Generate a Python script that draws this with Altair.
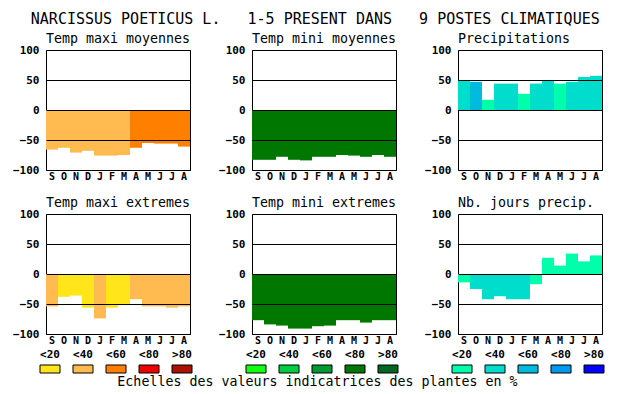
import altair as alt
import pandas as pd

FONT = "DejaVu Sans Mono"

main_title = "NARCISSUS POETICUS L.   1-5 PRESENT DANS   9 POSTES CLIMATIQUES"
footer = "Echelles des valeurs indicatrices des plantes en %"

months = ["S", "O", "N", "D", "J", "F", "M", "A", "M", "J", "J", "A"]
classes = ["<20", "<40", "<60", "<80", ">80"]

warm = ["#FFE51A", "#FFBB4F", "#FF8000", "#EE0000", "#AA1100"]
green = ["#11FF11", "#00CC44", "#009933", "#007700", "#006622"]
blue = ["#00FFAA", "#00DDCC", "#00BBDD", "#0099EE", "#0000FF"]

# panel values
tmax_moy = [-66, -63, -71, -68, -76, -76, -75, -63, -55, -56, -56, -61]
tmax_moy_cls = ["<40", "<40", "<40", "<40", "<40", "<40", "<40", "<60", "<60", "<60", "<60", "<60"]

tmin_moy = [-83, -83, -78, -83, -84, -78, -78, -75, -76, -78, -75, -78]
tmin_moy_cls = ["<80"] * 12

precip = [49, 47, 17, 44, 44, 27, 44, 49, 44, 47, 55, 57]
precip_cls = ["<40", "<60", "<20", "<40", "<40", "<20", "<40", "<40", "<20", "<40", "<40", "<40"]

tmax_ext = [-54, -38, -36, -56, -74, -56, -52, -42, -54, -54, -56, -54]
tmax_ext_cls = ["<40", "<20", "<20", "<20", "<40", "<20", "<20", "<40", "<40", "<40", "<40", "<40"]

tmin_ext = [-77, -84, -86, -91, -91, -87, -86, -77, -77, -81, -77, -77]
tmin_ext_cls = ["<80"] * 12

njours = [-14, -25, -42, -37, -42, -42, -17, 27, 14, 34, 21, 31]
njours_cls = ["<20", "<40", "<40", "<40", "<40", "<40", "<20", "<20", "<20", "<20", "<20", "<20"]

y_ticks = [-100, -50, 0, 50, 100]

color_domain = [p + c for p in ["T", "G", "B"] for c in classes]
color_range = warm + green + blue
color_scale = alt.Scale(domain=color_domain, range=color_range)

month_expr = "[" + ",".join("'%s'" % m for m in months) + "][datum.value]"

NBSP = "\u00a0"


def panel(title, pal, vals, cls):
    df = pd.DataFrame({"i": list(range(len(months))), "v": vals, "k": [pal + c for c in cls]})
    return (
        alt.Chart(df)
        .mark_bar()
        .encode(
            x=alt.X(
                "i:O",
                scale=alt.Scale(paddingInner=0, paddingOuter=0),
                axis=alt.Axis(
                    labelExpr=month_expr, title=None, ticks=False, domain=False,
                    labelAngle=0, labelFont=FONT, labelFontWeight="bold",
                    labelFontSize=10, labelPadding=1, labelColor="black",
                ),
            ),
            y=alt.Y(
                "v:Q",
                scale=alt.Scale(domain=[-100, 100], nice=False),
                axis=alt.Axis(
                    values=y_ticks, grid=True, gridColor="black", gridOpacity=1,
                    gridWidth=1, domain=False, ticks=False, title=None,
                    labelFont=FONT, labelFontWeight="bold", labelFontSize=11,
                    labelPadding=7, labelColor="black", zindex=1,
                ),
            ),
            color=alt.Color("k:N", scale=color_scale, legend=None),
        )
        .properties(
            width=144, height=120,
            title=alt.Title(title.replace(" ", NBSP), anchor="start", frame="group",
                            font=FONT, fontSize=13.3, fontWeight="normal", color="black",
                            baseline="alphabetic", offset=-12),
        )
    )


def legend_chart(pal, with_footer=False):
    df = pd.DataFrame({"c": classes, "k": [pal + c for c in classes], "g": [pal] * len(classes)})
    ch = (
        alt.Chart(df)
        .mark_bar(stroke="black", strokeWidth=1)
        .encode(
            x=alt.X(
                "c:N", sort=classes,
                scale=alt.Scale(domain=classes, range=[-6, 146],
                                paddingInner=13 / 33, paddingOuter=0),
                axis=alt.Axis(orient="top", title=None, ticks=False, domain=False,
                              labelAngle=0, labelFont=FONT, labelFontWeight="bold",
                              labelFontSize=11, labelPadding=6, offset=13,
                              labelColor="black"),
            ),
            y=alt.Y("g:N", scale=alt.Scale(range=[-13, -5], paddingInner=0, paddingOuter=0),
                    axis=None),
            color=alt.Color("k:N", scale=color_scale, legend=None),
        )
    )
    props = dict(width=144, height=8, view=alt.ViewBackground(stroke="transparent"))
    if with_footer:
        props["title"] = alt.Title(footer.replace(" ", NBSP), orient="bottom", anchor="middle",
                                   frame="group", font=FONT, fontSize=13.3,
                                   fontWeight="normal", color="black", dx=-6.5,
                                   offset=0, baseline="alphabetic")
    return ch.properties(**props)


charts = [
    panel("Temp maxi moyennes", "T", tmax_moy, tmax_moy_cls),
    panel("Temp mini moyennes", "G", tmin_moy, tmin_moy_cls),
    panel("Precipitations", "B", precip, precip_cls),
    panel("Temp maxi extremes", "T", tmax_ext, tmax_ext_cls),
    panel("Temp mini extremes", "G", tmin_ext, tmin_ext_cls),
    panel("Nb. jours precip.", "B", njours, njours_cls),
    legend_chart("T"),
    legend_chart("G", with_footer=True),
    legend_chart("B"),
]

chart = (
    alt.concat(*charts, columns=3, spacing={"row": 44, "column": 62},
               bounds="flush", align="each",
               title=alt.Title(main_title.replace(" ", NBSP), font=FONT, fontSize=15,
                               fontWeight="normal", color="black", anchor="middle",
                               baseline="alphabetic", offset=-8, dx=4))
    .properties(padding={"left": 4, "top": 4, "right": 0, "bottom": 0},
                background="white")
    .configure_view(stroke="black", strokeWidth=1)
)

chart.save("out.html", embed_options={"renderer": "svg", "actions": False})
